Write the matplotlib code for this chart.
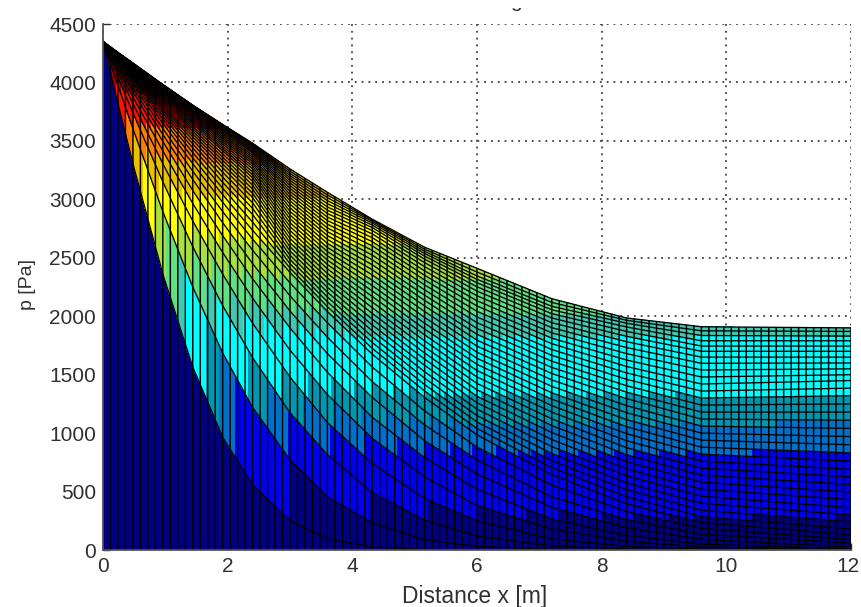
import numpy as np
import matplotlib
matplotlib.use("Agg")
import matplotlib.pyplot as plt
from matplotlib.transforms import Bbox, ScaledTranslation

plt.rcParams['font.family'] = ['Liberation Sans', 'DejaVu Sans']

# distance stations [m]
x_stations = [0, .24, .48, .96, 1.44, 1.92, 2.4, 3, 3.6, 4.32, 5.16, 6, 7.2, 8.4, 9.6, 12]

# pressure of each successive curve at each station [Pa]
p_x0 = [4350] * 40
p_x024 = [3820,3975,4045,4085,4115,4135,4150,4165,4175,4185,4190,4195,4200,4204,4208,4212,4215,4218,4221,4224,4227,4229,4231,4233,4235,4237,4239,4241,4243,4245,4247,4248,4249,4250,4251,4252,4253,4254,4256,4258]
p_x048 = [3305,3605,3740,3820,3875,3920,3950,3980,4000,4020,4033,4045,4056,4066,4075,4083,4091,4098,4105,4112,4118,4123,4128,4132,4136,4140,4143,4146,4149,4152,4154,4156,4158,4160,4161,4162,4163,4164,4165,4166]
p_x096 = [2360,2895,3150,3305,3415,3495,3555,3605,3650,3685,3714,3740,3762,3782,3800,3817,3832,3847,3861,3875,3887,3898,3909,3920,3930,3938,3945,3952,3958,3964,3968,3971,3974,3976,3978,3979,3980,3981,3981,3982]
p_x144 = [1565,2250,2595,2815,2965,3075,3170,3240,3305,3355,3400,3440,3475,3507,3535,3560,3583,3605,3625,3645,3661,3676,3691,3706,3720,3732,3743,3754,3765,3775,3782,3788,3793,3797,3800,3802,3803,3804,3805,3805]
p_x192 = [965,1685,2090,2360,2545,2690,2800,2895,2975,3040,3095,3145,3190,3232,3270,3302,3332,3360,3388,3415,3435,3455,3475,3493,3510,3525,3540,3554,3567,3580,3591,3601,3611,3620,3627,3632,3635,3637,3639,3640]
p_x240 = [555,1220,1645,1940,2155,2320,2450,2565,2660,2735,2805,2870,2922,2970,3015,3052,3088,3122,3155,3185,3210,3235,3260,3283,3305,3324,3342,3360,3378,3395,3408,3420,3432,3444,3455,3462,3468,3472,3476,3480]
p_x300 = [250,770,1175,1480,1710,1900,2045,2175,2285,2375,2412,2449,2486,2522,2558,2594,2629,2664,2699,2733,2767,2800,2833,2865,2897,2928,2958,2987,3015,3042,3068,3093,3117,3140,3162,3183,3203,3222,3241,3260]
p_x360 = [95,455,815,1090,1330,1520,1680,1820,1945,2040,2082,2124,2165,2206,2247,2287,2327,2366,2405,2443,2480,2517,2553,2588,2623,2657,2690,2723,2755,2787,2818,2848,2878,2907,2935,2963,2989,3014,3038,3060]
p_x432 = [25,230,490,740,955,1135,1305,1440,1565,1675,1725,1775,1825,1875,1925,1975,2024,2073,2121,2169,2216,2262,2308,2353,2397,2440,2482,2523,2563,2602,2638,2672,2704,2733,2758,2779,2797,2811,2822,2830]
p_x516 = [4,90,255,440,625,790,935,1070,1190,1305,1360,1415,1470,1525,1580,1633,1685,1737,1789,1840,1890,1940,1990,2040,2088,2135,2180,2225,2268,2310,2350,2388,2424,2458,2488,2514,2536,2555,2573,2590]
p_x600 = [0,30,120,250,380,520,650,770,880,985,1040,1095,1150,1205,1260,1315,1370,1425,1480,1535,1588,1640,1692,1744,1795,1845,1895,1945,1994,2042,2088,2132,2175,2215,2252,2286,2316,2345,2378,2410]
p_x720 = [0,5,35,95,180,265,365,455,555,645,705,765,825,885,945,1005,1065,1122,1180,1235,1290,1345,1400,1455,1510,1562,1615,1665,1715,1765,1812,1858,1902,1945,1985,2022,2055,2085,2118,2150]
p_x840 = [0,2,8,30,75,125,190,260,330,395,455,515,575,635,695,755,815,875,935,995,1055,1115,1175,1235,1295,1350,1405,1460,1515,1570,1625,1680,1732,1782,1828,1870,1908,1940,1965,1985]
p_x960 = [0,0,2,8,25,50,90,135,185,235,285,340,400,460,520,580,640,700,760,820,880,940,1000,1060,1120,1180,1240,1300,1360,1420,1480,1540,1597,1650,1700,1745,1790,1835,1875,1910]
p_x1200 = [0,0,0,1,2,8,25,60,90,130,180,240,300,360,430,495,560,625,690,760,830,900,970,1040,1110,1180,1250,1320,1385,1450,1500,1550,1600,1650,1700,1745,1790,1830,1870,1900]

# upper edge of the surface at each grid column (0.12 m apart)
top_edge = [4350,4304,4258,4212,4166,4120,4074,4028,3982,3938,3894,3850,3805,3764,3723,3682,3640,3600,3560,3520,
            3480,3436,3392,3348,3304,3260,3220,3180,3140,3100,3060,3022,2984,2946,2908,2869,2830,2795,2761,2727,
            2693,2659,2625,2590,2564,2538,2512,2486,2460,2435,2410,2384,2358,2332,2306,2280,2254,2228,2202,2176,
            2150,2133,2117,2100,2084,2067,2051,2034,2018,2001,1985,1978,1972,1965,1959,1951,1944,1936,1928,1919,
            1910,1909,1908,1907,1906,1905,1904,1904,1903,1903,1902,1902,1902,1901,1901,1901,1900,1900,1900,1900,1900]
column_step = 0.12

# colour bands of the surface
band_edges = [-1,250,800,1050,1300,1800,2000,2300,2600,3000,3300,3600,3900,4400]
band_colors = ['#000080','#0000f0','#0070c8','#0098b0','#00ffff','#40c8b0','#60e080',
               '#a8e040','#ffff00','#e8c000','#ff8000','#ff1000','#a00000']

xticks = [0,2,4,6,8,10,12]
yticks = list(range(0,5000,500))

columns = [p_x0,p_x024,p_x048,p_x096,p_x144,p_x192,p_x240,p_x300,p_x360,p_x432,p_x516,p_x600,p_x720,p_x840,p_x960,p_x1200]
curves = np.array(columns, dtype=float).T
Z = np.vstack([np.zeros(len(x_stations)), curves])

# each band between two curves takes its colour from the value of its lower curve
Yb = np.empty((2*(Z.shape[0]-1), Z.shape[1]))
Vb = np.empty_like(Yb)
Yb[0::2] = Z[:-1]
Yb[1::2] = Z[1:]
Vb[0::2] = Z[:-1]
Vb[1::2] = Z[:-1]
Xb = np.tile(np.array(x_stations), (Yb.shape[0], 1))

W, H = 861, 607
fig = plt.figure(figsize=(W/100, H/100), dpi=100)
ax = fig.add_axes([103/W, 1-550/H, (851-103)/W, (550-24)/H])
ax.set_axisbelow(True)
ax.grid(True, color='#404040', linestyle=(0,(1,2.77)), linewidth=1.3)

ax.contourf(Xb, Yb, Vb, levels=band_edges, colors=band_colors, antialiased=False, zorder=2)
for row in Z:
    ax.plot(x_stations, row, color='black', lw=0.95, zorder=3, solid_joinstyle='round')
col_x = np.arange(len(top_edge)) * column_step
vl = ax.vlines(col_x, 0, top_edge, color='black', lw=1.05, zorder=3)
vl.set_snap(False)

ax.set_xlim(0, 12)
ax.set_ylim(0, 4500)
ax.set_xticks(xticks)
ax.set_yticks(yticks)
ax.tick_params(direction='in', length=5, width=1, colors='#303030', labelsize=15, pad=5)
for s in ['top','right']:
    ax.spines[s].set_visible(False)
for s in ['left','bottom']:
    ax.spines[s].set_color('#505050')
    ax.spines[s].set_linewidth(1.3)
    ax.spines[s].set_zorder(5)
for t in ax.get_xticklabels()+ax.get_yticklabels():
    t.set_color('#303030')

# keep the last x tick label inside the picture
fig.canvas.draw()
last = ax.get_xticklabels()[-1]
last.set_transform(last.get_transform() + ScaledTranslation(-3/100, 0, fig.dpi_scale_trans))

fig.text(475/W, 1-596/H, 'Distance x [m]', ha='center', va='center', fontsize=16.5, color='#303030')
fig.text(27/W, 1-285/H, 'p [Pa]', ha='center', va='center', rotation=90, fontsize=14, color='#303030')

# cut-off title: only a descender remains at the top of the image
cut = fig.text(516/W, 1-7/H, 'g', ha='center', va='baseline', fontsize=15, color='#303030')
cut.set_clip_on(True)
cut.set_clip_box(Bbox([[0, 0], [W, H-7.5]]))

fig.savefig('out.png', dpi=100, facecolor='white')
